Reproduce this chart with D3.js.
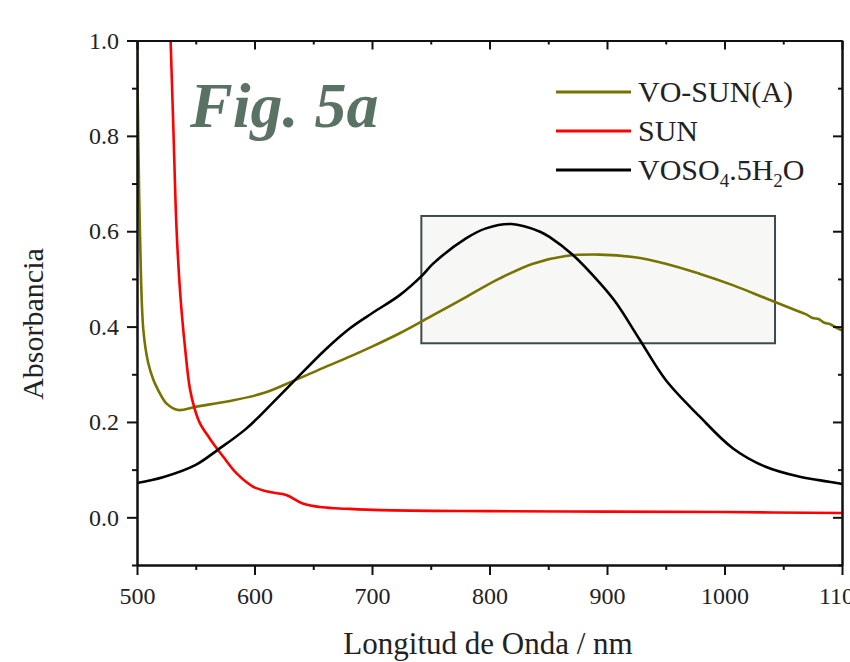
<!DOCTYPE html>
<html>
<head>
<meta charset="utf-8">
<script src="https://cdn.jsdelivr.net/npm/d3@7"></script>
<style>
  body { margin: 0; background: #fff; }
  svg { display: block; font-family: "Liberation Serif", "DejaVu Serif", serif; }
</style>
</head>
<body>
<div id="chart"></div>
<script>
// values (wavelength nm, absorbance)
const voSunNm  = [500, 501, 502.5, 505.4, 509.6, 514, 518, 525, 535, 550, 579, 607, 632, 660, 681, 700, 723.6, 752, 780, 808.7, 837, 865, 893.7, 922, 950, 978.7, 1007, 1035.5, 1063.8, 1070, 1075, 1080, 1085, 1090, 1095, 1100];
const voSunAbs = [1.0, 0.81, 0.60, 0.393, 0.323, 0.288, 0.267, 0.239, 0.225, 0.232, 0.244, 0.26, 0.285, 0.315, 0.337, 0.358, 0.386, 0.424, 0.462, 0.501, 0.532, 0.548, 0.551, 0.546, 0.532, 0.511, 0.487, 0.459, 0.431, 0.425, 0.418, 0.416, 0.408, 0.405, 0.398, 0.392];

const sunNm  = [528.6, 531, 533.7, 537, 540.8, 545, 549, 553.6, 562, 573.4, 584.8, 599, 613, 627, 641, 658, 678, 707, 800, 900, 1000, 1100];
const sunAbs = [1.0, 0.812, 0.602, 0.462, 0.358, 0.27, 0.228, 0.197, 0.165, 0.127, 0.092, 0.064, 0.053, 0.047, 0.029, 0.021, 0.018, 0.015, 0.013, 0.012, 0.011, 0.009];

const vosoNm  = [500, 522, 550, 569, 593, 615, 633, 660, 681, 700, 723.6, 743, 752, 780, 797, 818.6, 843, 851, 871, 894, 908, 928, 950, 979, 1007, 1035, 1064, 1080, 1098, 1100];
const vosoAbs = [0.072, 0.084, 0.11, 0.142, 0.186, 0.239, 0.284, 0.351, 0.396, 0.428, 0.466, 0.508, 0.532, 0.585, 0.606, 0.615, 0.599, 0.588, 0.55, 0.491, 0.449, 0.372, 0.288, 0.211, 0.145, 0.106, 0.085, 0.078, 0.071, 0.07];

const xMajor = [500, 600, 700, 800, 900, 1000, 1100];
const xMinor = [550, 650, 750, 850, 950, 1050];
const yMajor = [0.0, 0.2, 0.4, 0.6, 0.8, 1.0];
const yMinor = [-0.1, 0.1, 0.3, 0.5, 0.7, 0.9];

const boxNm  = [742, 1043];
const boxAbs = [0.365, 0.632];

const seriesNames = ["VO-SUN(A)", "SUN", "VOSO4.5H2O"];
const colors = ["#777300", "#ff0000", "#000000"];

const width = 850, height = 662;
const margins = { top: 40.5, right: 8, bottom: 97, left: 137 };

var svg = d3.select("#chart")
    .append("svg")
    .attr("width", width)
    .attr("height", height);

var x = d3.scaleLinear()
    .domain([500, 1100])
    .range([margins.left, width - margins.right]);
var y = d3.scaleLinear()
    .domain([-0.1, 1.0])
    .range([height - margins.bottom, margins.top]);

svg.append("clipPath").attr("id", "plot-clip")
    .append("rect")
    .attr("x", x(500)).attr("y", y(1.0))
    .attr("width", x(1100) - x(500)).attr("height", y(-0.1) - y(1.0));

// shaded box
svg.append("rect")
    .attr("x", x(boxNm[0]))
    .attr("y", y(boxAbs[1]))
    .attr("width", x(boxNm[1]) - x(boxNm[0]))
    .attr("height", y(boxAbs[0]) - y(boxAbs[1]))
    .attr("fill", "#f7f8f6")
    .attr("stroke", "#3b4a4b")
    .attr("stroke-width", 2);

const line = d3.line()
    .x(d => x(d[0]))
    .y(d => y(d[1]))
    .curve(d3.curveCatmullRom.alpha(0.5));

const series = [
    d3.zip(voSunNm, voSunAbs),
    d3.zip(sunNm, sunAbs),
    d3.zip(vosoNm, vosoAbs)
];

svg.append("g")
    .attr("clip-path", "url(#plot-clip)")
    .selectAll("path")
    .data(series)
    .join("path")
    .attr("d", line)
    .attr("fill", "none")
    .attr("stroke", (_, i) => colors[i])
    .attr("stroke-width", 2.6)
    .attr("stroke-linejoin", "round");

// axes
const styleAxis = g => {
    g.select(".domain").attr("stroke-width", 2).attr("stroke", "#111");
    g.selectAll(".tick line").attr("stroke-width", 2).attr("stroke", "#111");
    g.selectAll(".tick text")
        .attr("font-family", "Liberation Serif, DejaVu Serif, serif")
        .attr("font-size", 24)
        .attr("fill", "#222");
};

svg.append("g")
    .attr("transform", `translate(0,${y(-0.1)})`)
    .call(d3.axisBottom(x).tickValues(xMinor).tickSize(5).tickFormat("").tickSizeOuter(0))
    .call(styleAxis);
svg.append("g")
    .attr("transform", `translate(0,${y(-0.1)})`)
    .call(d3.axisBottom(x).tickValues(xMajor).tickSize(10).tickPadding(12).tickFormat(d3.format("d")).tickSizeOuter(0))
    .call(styleAxis);

svg.append("g")
    .attr("transform", `translate(0,${y(1.0)})`)
    .call(d3.axisTop(x).tickValues(xMinor).tickSize(-4).tickFormat("").tickSizeOuter(0))
    .call(styleAxis);
svg.append("g")
    .attr("transform", `translate(0,${y(1.0)})`)
    .call(d3.axisTop(x).tickValues(xMajor).tickSize(-9).tickFormat("").tickSizeOuter(0))
    .call(styleAxis);

svg.append("g")
    .attr("transform", `translate(${x(500)},0)`)
    .call(d3.axisLeft(y).tickValues(yMinor).tickSize(5).tickFormat("").tickSizeOuter(0))
    .call(styleAxis);
svg.append("g")
    .attr("transform", `translate(${x(500)},0)`)
    .call(d3.axisLeft(y).tickValues(yMajor).tickSize(10).tickPadding(8).tickFormat(d3.format(".1f")).tickSizeOuter(0))
    .call(styleAxis);

svg.append("g")
    .attr("transform", `translate(${x(1100)},0)`)
    .call(d3.axisRight(y).tickValues(yMinor).tickSize(-4).tickFormat("").tickSizeOuter(0))
    .call(styleAxis);
svg.append("g")
    .attr("transform", `translate(${x(1100)},0)`)
    .call(d3.axisRight(y).tickValues(yMajor).tickSize(-9).tickFormat("").tickSizeOuter(0))
    .call(styleAxis);

// titles
svg.append("text")
    .attr("x", 488)
    .attr("y", 654)
    .attr("text-anchor", "middle")
    .attr("font-size", 31)
    .attr("fill", "#222")
    .text("Longitud de Onda / nm");

svg.append("text")
    .attr("transform", `translate(43,${324}) rotate(-90)`)
    .attr("text-anchor", "middle")
    .attr("font-size", 30)
    .attr("fill", "#222")
    .text("Absorbancia");

svg.append("text")
    .attr("x", 190)
    .attr("y", 127)
    .attr("font-size", 64)
    .attr("font-weight", "bold")
    .attr("font-style", "italic")
    .attr("fill", "#5a7264")
    .text("Fig. 5a");

// legend
const legendY = [92, 131, 170];
var legend = svg.append("g")
    .selectAll("g")
    .data(seriesNames)
    .join("g")
    .attr("transform", (_, i) => `translate(556,${legendY[i]})`);

legend.append("line")
    .attr("x1", 0).attr("x2", 75)
    .attr("stroke", (_, i) => colors[i])
    .attr("stroke-width", 3);

legend.append("text")
    .attr("x", 82)
    .attr("y", 10)
    .attr("font-size", 30)
    .attr("fill", "#222")
    .each(function (d) {
        const t = d3.select(this);
        if (d === "VOSO4.5H2O") {
            t.append("tspan").text("VOSO");
            t.append("tspan").attr("font-size", 19).attr("dy", 7).text("4");
            t.append("tspan").attr("dy", -7).text(".5H");
            t.append("tspan").attr("font-size", 19).attr("dy", 7).text("2");
            t.append("tspan").attr("dy", -7).text("O");
        } else {
            t.text(d);
        }
    });
</script>
</body>
</html>
